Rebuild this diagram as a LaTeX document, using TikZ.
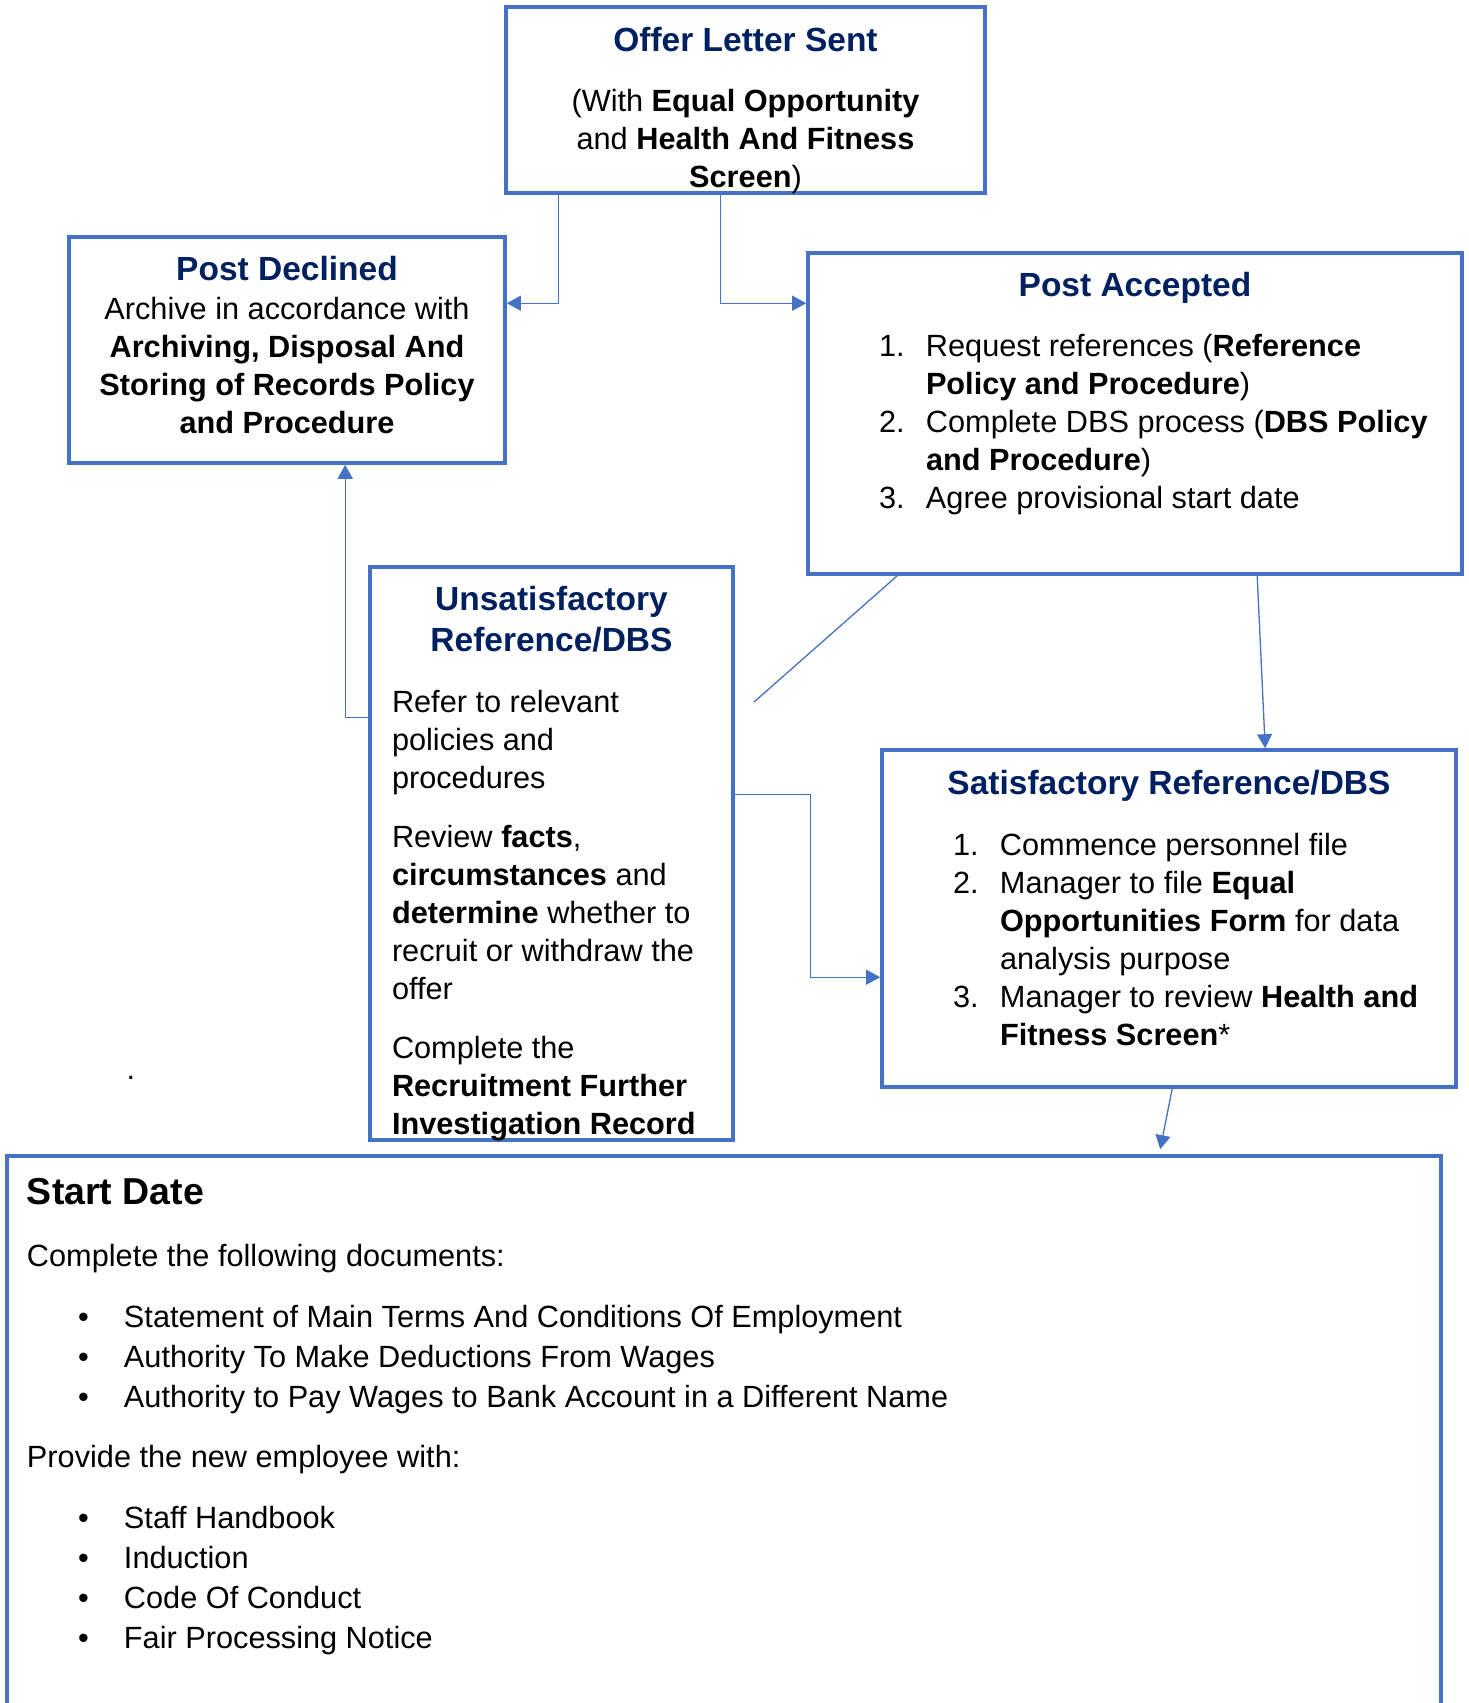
\documentclass[tikz,border=0pt]{standalone}
\usepackage{fontspec}
\setmainfont{Liberation Sans}
\usetikzlibrary{arrows.meta,calc}

\definecolor{boxblue}{HTML}{4472C4}
\definecolor{headblue}{HTML}{002060}

\newcommand{\bodysize}{\fontsize{30.7pt}{38pt}\selectfont}
\newcommand{\headtext}{\fontsize{33.5pt}{41pt}\selectfont\bfseries\color{headblue}}
\newcommand{\boxtext}[3]{\parbox[c][#2][t]{#1}{\bodysize #3}}
\newcommand{\numitem}[2]{\par\hangindent=47pt\hangafter=1\noindent\makebox[47pt][l]{#1}#2}
\newcommand{\bulitem}[1]{\par\noindent\hspace*{51pt}\makebox[46pt][l]{\textbullet}#1}

\begin{document}
\begin{tikzpicture}[x=1pt,y=-1pt,
  box/.style={draw=boxblue,line width=3.6pt,inner sep=0pt},
  conn/.style={draw=boxblue,line width=1.3pt},
  arr/.style={conn,-{Triangle[length=14pt,width=15pt]}}]
\useasboundingbox (0,0) rectangle (1469,1703);

% boxes
\node[box] (offer) at (745.5,100) {\boxtext{479pt}{186pt}{\centering
  \rule{0pt}{44pt}{\headtext Offer Letter Sent}\par\vspace{22pt}
  (With \textbf{Equal Opportunity}\\ and \textbf{Health And Fitness}\\ \textbf{Screen})\par}};

\node[box] (declined) at (287,350) {\boxtext{436pt}{226pt}{\centering
  \rule{0pt}{43pt}{\headtext Post Declined}\par\vspace{1pt}
  Archive in accordance with\\ \textbf{Archiving, Disposal And}\\
  \textbf{Storing of Records Policy}\\ \textbf{and Procedure}\par}};

\node[box] (accepted) at (1135,413.5) {\boxtext{654pt}{321pt}{
  {\centering\rule{0pt}{43pt}{\headtext Post Accepted}\par}\vspace{22pt}
  \raggedright\leftskip=71pt
  \numitem{1.}{Request references (\textbf{Reference}\newline \textbf{Policy and Procedure})}
  \numitem{2.}{Complete DBS process (\textbf{DBS Policy}\newline \textbf{and Procedure})}
  \numitem{3.}{Agree provisional start date}\par}};

\node[box] (unsat) at (551.5,853.5) {\boxtext{363pt}{573pt}{
  {\centering\rule{0pt}{43pt}{\headtext Unsatisfactory\\ Reference/DBS\par}}\vspace{23pt}
  \raggedright\leftskip=22pt
  Refer to relevant\\ policies and\\ procedures\par\vspace{21pt}
  Review \textbf{facts},\\ \textbf{circumstances} and\\ \textbf{determine} whether to\\
  recruit or withdraw the\\ offer\par\vspace{21pt}
  Complete the\\ \textbf{Recruitment Further}\\ \textbf{Investigation Record}\par}};

\node[box] (satis) at (1169,918.5) {\boxtext{574pt}{337pt}{
  {\centering\rule{0pt}{44pt}{\headtext Satisfactory Reference/DBS}\par}\vspace{23pt}
  \raggedright\leftskip=71pt
  \numitem{1.}{Commence personnel file}
  \numitem{2.}{Manager to file \textbf{Equal}\newline \textbf{Opportunities Form} for data\newline analysis purpose}
  \numitem{3.}{Manager to review \textbf{Health and}\newline \textbf{Fitness Screen}*}\par}};

\node[box] (start) at (724,1438) {\parbox[c][564pt][t]{1434pt}{%
  \fontsize{30.7pt}{40pt}\selectfont\raggedright\leftskip=20pt
  \rule{0pt}{48pt}{\fontsize{37.5pt}{45pt}\selectfont\bfseries Start Date\par}\vspace{22pt}
  Complete the following documents:\par\vspace{21pt}
  \bulitem{Statement of Main Terms And Conditions Of Employment}
  \bulitem{Authority To Make Deductions From Wages}
  \bulitem{Authority to Pay Wages to Bank Account in a Different Name}\par\vspace{20pt}
  Provide the new employee with:\par\vspace{21pt}
  \bulitem{Staff Handbook}
  \bulitem{Induction}
  \bulitem{Code Of Conduct}
  \bulitem{Fair Processing Notice}\par}};

\node[anchor=base,font=\bodysize] (dot) at (131,1079) {.};

% arrows
\draw[arr] ($(offer.south west)+(54,0)$) |- ($(declined.north east)+(0,68)$);
\draw[arr] ($(offer.south west)+(216,0)$) |- ($(accepted.north west)+(0,52)$);
\draw[arr] ($(unsat.north west)+(0,152)$) -| ($(declined.south west)+(278,0)$);
\coordinate (loose) at ($(unsat.north east)+(19,137)$);
\draw[conn] ($(accepted.south west)+(91,0)$) -- (loose);
\draw[arr] ($(accepted.south west)+(451,0)$) -- ($(satis.north west)+(385,0)$);
\draw[arr] ($(unsat.north east)+(0,229)$) -- ++(76,0) |- ($(satis.north west)+(0,229)$);
\draw[arr] ($(satis.south west)+(292,0)$) -- ($(start.north west)+(1155,-5)$);
\end{tikzpicture}
\end{document}
